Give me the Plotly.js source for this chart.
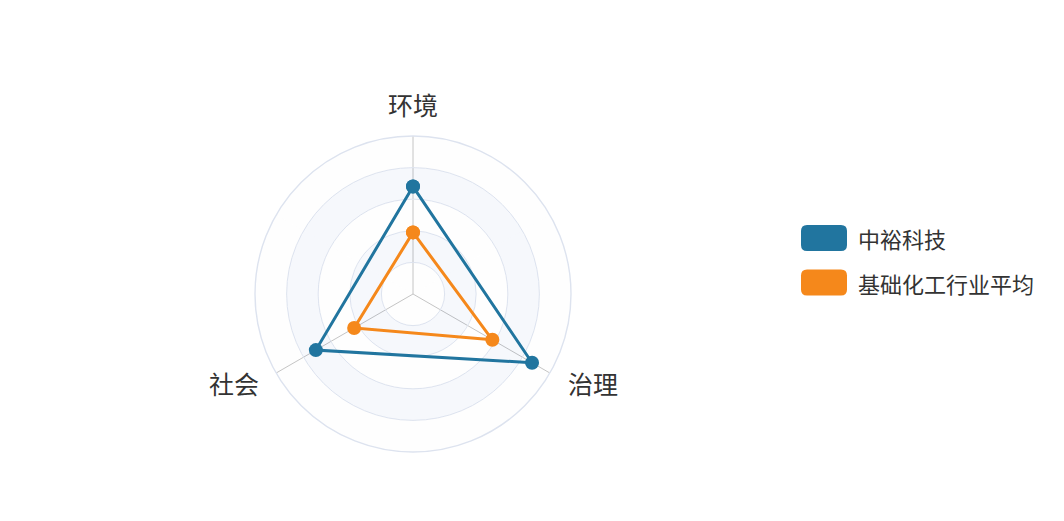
<!DOCTYPE html>
<html>
<head>
<meta charset="utf-8">
<script src="https://cdn.plot.ly/plotly-3.0.1.min.js"></script>
<style>
  html, body { margin: 0; padding: 0; background: #fff; }
  #chart { width: 1064px; height: 521px; }
</style>
</head>
<body>
<div id="chart"></div>
<script>
// ESG radar: company vs. industry average
const dimensions = ['环境', '治理', '社会'];
const seriesNames = ['中裕科技', '基础化工行业平均'];
const companyScores = [68, 87, 71];
const industryScores = [39, 58, 43];
const radialMax = 100;
const splitValues = [20, 40, 60, 80, 100];

const colors = ['#21759f', '#f5881b'];
const W = 1064, H = 521;
const FONT = '"Noto Sans CJK SC", "Microsoft YaHei", sans-serif';

// radar box in pixels -> paper fractions (margins are zero)
const cx = 413, cy = 294, R = 158;
const domain = {
    x: [(cx - R) / W, (cx + R) / W],
    y: [(H - cy - R) / H, (H - cy + R) / H]
};

const closed = arr => arr.concat(arr.slice(0, 1));

// alternating split areas, echarts style
const traces = [];
for (let i = 0; i < splitValues.length; i++) {
    const lo = i === 0 ? 0 : splitValues[i - 1];
    const hi = splitValues[i];
    traces.push({
        type: 'barpolar',
        theta: dimensions,
        r: dimensions.map(() => hi - lo),
        base: dimensions.map(() => lo),
        marker: {
            color: i % 2 ? 'rgba(210,219,238,0.2)' : 'rgba(250,250,250,0.2)',
            line: { width: 0 }
        },
        hoverinfo: 'skip',
        showlegend: false
    });
}

[companyScores, industryScores].forEach((vals, k) => {
    traces.push({
        type: 'scatterpolar',
        name: seriesNames[k],
        theta: closed(dimensions),
        r: closed(vals),
        mode: 'lines+markers',
        line: { color: colors[k], width: 3 },
        marker: { color: colors[k], size: 14 },
        showlegend: false
    });
});

// hand-drawn legend (rounded swatches like the source)
const legendY = [238, 282.5];
const sw = 46, sh = 26, rr = 6;
const swatchPath =
    `M${-sw/2 + rr},${-sh/2} H${sw/2 - rr} Q${sw/2},${-sh/2} ${sw/2},${-sh/2 + rr} ` +
    `V${sh/2 - rr} Q${sw/2},${sh/2} ${sw/2 - rr},${sh/2} H${-sw/2 + rr} ` +
    `Q${-sw/2},${sh/2} ${-sw/2},${sh/2 - rr} V${-sh/2 + rr} Q${-sw/2},${-sh/2} ${-sw/2 + rr},${-sh/2} Z`;

const shapes = seriesNames.map((n, k) => ({
    type: 'path',
    xref: 'paper', yref: 'paper',
    xsizemode: 'pixel', ysizemode: 'pixel',
    xanchor: (801 + sw / 2) / W,
    yanchor: 1 - legendY[k] / H,
    path: swatchPath,
    fillcolor: colors[k],
    line: { width: 0 }
}));

const annotations = seriesNames.map((n, k) => ({
    xref: 'paper', yref: 'paper',
    x: 856 / W, y: 1 - legendY[k] / H,
    xanchor: 'left', yanchor: 'middle',
    text: n,
    showarrow: false,
    font: { family: FONT, size: 22, color: '#333' }
}));

// indicator names placed like echarts (outside the outer ring)
const labelPos = [
    { x: 413, y: 104, xa: 'center' },
    { x: 566, y: 383, xa: 'left' },
    { x: 261, y: 383, xa: 'right' }
];
dimensions.forEach((d, i) => {
    annotations.push({
        xref: 'paper', yref: 'paper',
        x: labelPos[i].x / W, y: 1 - labelPos[i].y / H,
        xanchor: labelPos[i].xa, yanchor: 'middle',
        text: d,
        showarrow: false,
        font: { family: FONT, size: 25, color: '#333' }
    });
});

const layout = {
    width: W, height: H,
    margin: { l: 0, r: 0, t: 0, b: 0 },
    paper_bgcolor: '#fff',
    showlegend: false,
    font: { family: FONT, color: '#333' },
    polar: {
        domain: domain,
        bgcolor: 'rgba(0,0,0,0)',
        gridshape: 'circular',
        bargap: 0,
        radialaxis: {
            range: [0, radialMax],
            tickvals: splitValues,
            showticklabels: false,
            ticks: '',
            showline: false,
            gridcolor: '#dde3ef',
            gridwidth: 1.4
        },
        angularaxis: {
            type: 'category',
            categoryarray: dimensions,
            rotation: 90,
            direction: 'clockwise',
            showline: true,
            linecolor: '#dde3ef',
            linewidth: 1.4,
            gridcolor: '#b8b8b8',
            gridwidth: 1.4,
            ticks: '',
            showticklabels: false
        }
    },
    shapes: shapes,
    annotations: annotations
};

Plotly.newPlot('chart', traces, layout, { displayModeBar: false, responsive: false });
</script>
</body>
</html>
